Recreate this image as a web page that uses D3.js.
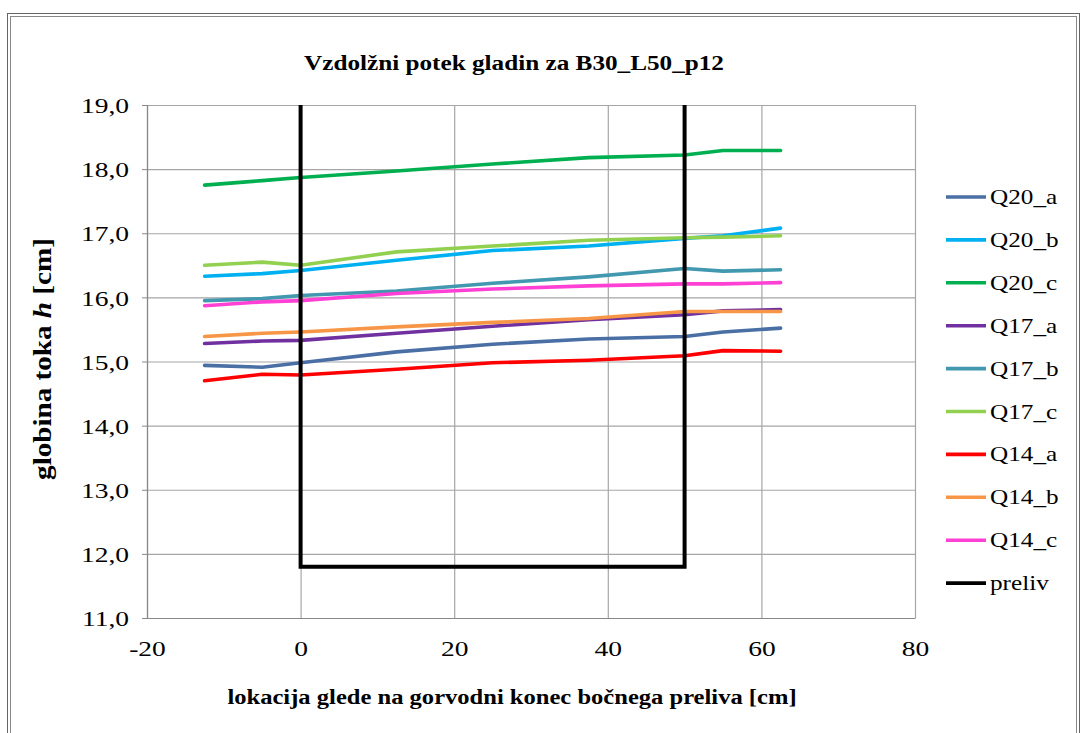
<!DOCTYPE html>
<html><head><meta charset="utf-8">
<script src="https://cdn.jsdelivr.net/npm/d3@7"></script>
<style>
html,body{margin:0;padding:0;background:#fff;}
svg{display:block;}
svg text{font-family:"Liberation Serif","Times New Roman","DejaVu Serif",serif;}
</style>
</head><body>
<svg id="chart" width="1082" height="733"></svg>
<script>
const chartTitle = "Vzdolžni potek gladin za B30_L50_p12";
const xTitle = "lokacija glede na gorvodni konec bočnega preliva [cm]";
const xLocations = [-12.5, -5, 0, 12.5, 25, 37.5, 50, 55, 62.5];
const seriesNames = ["Q20_a","Q20_b","Q20_c","Q17_a","Q17_b","Q17_c","Q14_a","Q14_b","Q14_c"];
const seriesColors = ["#4a6fa5","#00b0f0","#00b050","#7030a0","#4198af","#92d050","#ff0000","#f79646","#ff40d4"];
const Q20_a = [14.94,14.91,14.98,15.15,15.27,15.35,15.39,15.46,15.52];
const Q20_b = [16.33,16.37,16.42,16.58,16.73,16.80,16.92,16.96,17.08];
const Q20_c = [17.75,17.82,17.87,17.97,18.08,18.18,18.22,18.29,18.29];
const Q17_a = [15.28,15.32,15.33,15.44,15.55,15.65,15.73,15.79,15.81];
const Q17_b = [15.95,15.98,16.03,16.10,16.22,16.32,16.45,16.41,16.43];
const Q17_c = [16.50,16.55,16.50,16.71,16.80,16.89,16.93,16.94,16.96];
const Q14_a = [14.70,14.80,14.79,14.88,14.98,15.02,15.09,15.17,15.16];
const Q14_b = [15.39,15.44,15.46,15.54,15.61,15.67,15.78,15.78,15.78];
const Q14_c = [15.87,15.93,15.95,16.06,16.13,16.18,16.21,16.21,16.23];
const prelivX = [0, 0, 50, 50];
const prelivY = [19, 11.8, 11.8, 19];
const xTicks = [-20, 0, 20, 40, 60, 80];
const yTicks = [11, 12, 13, 14, 15, 16, 17, 18, 19];

const seriesValues = [Q20_a,Q20_b,Q20_c,Q17_a,Q17_b,Q17_c,Q14_a,Q14_b,Q14_c];

const svg = d3.select("#chart");
const SX = 1.2;
const SXT = 1.25;

// outer frame
svg.append("rect").attr("x",7.5).attr("y",13.5).attr("width",1072).attr("height",740)
  .attr("fill","#fff").attr("stroke","#666").attr("stroke-width",1);
svg.append("rect").attr("x",10.5).attr("y",16.5).attr("width",1066).attr("height",740)
  .attr("fill","none").attr("stroke","#888").attr("stroke-width",1);

const L = 147, R = 915, T = 105, B = 618;
const x = d3.scaleLinear().domain([-20, 80]).range([L, R]);
const y = d3.scaleLinear().domain([11, 19]).range([B, T]);

// gridlines
svg.append("g").attr("transform",`translate(${L},0)`)
  .call(d3.axisLeft(y).tickValues(yTicks).tickSize(-(R-L)).tickFormat(""))
  .call(g => g.select(".domain").remove())
  .call(g => g.selectAll("line").attr("stroke","#a6a6a6").attr("stroke-width",1.2));
svg.append("g").attr("transform",`translate(0,${B})`)
  .call(d3.axisBottom(x).tickValues(xTicks).tickSize(-(B-T)).tickFormat(""))
  .call(g => g.select(".domain").remove())
  .call(g => g.selectAll("line").attr("stroke","#a6a6a6").attr("stroke-width",1.2));

// axes
const yAxis = svg.append("g").attr("transform",`translate(${L},0)`)
  .call(d3.axisLeft(y).tickValues(yTicks).tickSize(5).tickPadding(0)
    .tickFormat(d => d3.format(".1f")(d).replace(".", ",")));
yAxis.attr("font-family",null);
yAxis.select(".domain").attr("stroke","#888").attr("stroke-width",1.2);
yAxis.selectAll("line").attr("stroke","#888");
yAxis.selectAll("text").attr("font-size",22).attr("fill","#000")
  .attr("x",0).attr("dy","0.35em")
  .attr("transform",`translate(-18,0) scale(${SXT},1)`);

const xAxis = svg.append("g").attr("transform",`translate(0,${B})`)
  .call(d3.axisBottom(x).tickValues(xTicks).tickSize(0).tickPadding(0).tickFormat(d => d));
xAxis.attr("font-family",null);
xAxis.select(".domain").attr("stroke","#888").attr("stroke-width",1.2);
xAxis.selectAll("text").attr("font-size",22).attr("fill","#000")
  .attr("y",0).attr("dy",0)
  .attr("transform",`translate(0,38) scale(${SXT},1)`);

// series lines
const line = d3.line().x(d => x(d[0])).y(d => y(d[1]));
seriesValues.forEach((vals, i) => {
  svg.append("path")
    .datum(xLocations.map((xv, j) => [xv, vals[j]]))
    .attr("d", line).attr("fill","none")
    .attr("stroke", seriesColors[i]).attr("stroke-width",3.6)
    .attr("stroke-linejoin","round").attr("stroke-linecap","round");
});
svg.append("path")
  .datum(prelivX.map((xv, j) => [xv, prelivY[j]]))
  .attr("d", line).attr("fill","none")
  .attr("stroke","#000").attr("stroke-width",4).attr("stroke-linejoin","miter");

// title
svg.append("text").attr("transform",`translate(514,70) scale(${SX},1)`)
  .attr("text-anchor","middle").attr("font-weight","bold")
  .attr("font-size",21).text(chartTitle);

// x title
svg.append("text").attr("transform",`translate(512,704) scale(1.17,1)`)
  .attr("text-anchor","middle").attr("font-weight","bold")
  .attr("font-size",21).text(xTitle);

// y title
const yt = svg.append("text").attr("transform","translate(51,359) rotate(-90) scale(1.12,1)")
  .attr("text-anchor","middle").attr("font-weight","bold")
  .attr("font-size",26);
yt.append("tspan").text("globina toka ");
yt.append("tspan").attr("font-style","italic").text("h");
yt.append("tspan").text(" [cm]");

// legend
const legendNames = seriesNames.concat(["preliv"]);
const legendColors = seriesColors.concat(["#000"]);
const lg = svg.append("g");
legendNames.forEach((n, i) => {
  const cy = 197 + i * 42.9;
  lg.append("line").attr("x1",946).attr("x2",986).attr("y1",cy).attr("y2",cy)
    .attr("stroke",legendColors[i]).attr("stroke-width",3.6);
  lg.append("text").attr("transform",`translate(990,${cy+7}) scale(${SX},1)`)
    .attr("font-size",21).text(n);
});
</script>
</body></html>
